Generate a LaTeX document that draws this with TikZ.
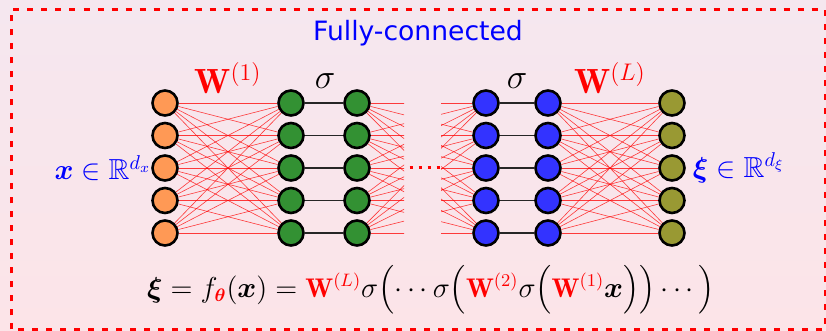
\documentclass[tikz,border=0pt]{standalone}
\usepackage{amsmath,amssymb}
\usepackage{bm}
\usepackage{fontspec}
\newfontfamily\titlefont{DejaVu Sans}
\usetikzlibrary{positioning}

\definecolor{bgtop}{RGB}{245,231,239}
\definecolor{bgbot}{RGB}{252,228,232}
\definecolor{inorange}{RGB}{255,153,85}
\definecolor{hidgreen}{RGB}{51,145,51}
\definecolor{hidblue}{RGB}{51,51,255}
\definecolor{outolive}{RGB}{153,153,51}

\tikzset{
  neuron/.style={draw, circle, line width=1.3pt, minimum size=12.5pt, inner sep=0pt},
  wline/.style={red, line width=0.3pt, opacity=0.75},
  actline/.style={line width=0.9pt, black!85},
  lbl/.style={font=\fontsize{14.5}{16}\selectfont},
  wlbl/.style={font=\fontsize{17.5}{19}\selectfont},
  siglbl/.style={font=\fontsize{19}{21}\selectfont}
}
\newcommand{\wmat}[1]{{\color{red}\mathbf{W}^{(#1)}}}

\begin{document}
\begin{tikzpicture}[x=0.5pt, y=0.5pt]
  \useasboundingbox (0,0) rectangle (826,331);
  \shade[top color=bgtop, bottom color=bgbot] (0,0) rectangle (826,331);
  \draw[red, line width=1.5pt, dash pattern=on 3pt off 4pt] (11,1.5) rectangle (825,321);
  \node[font=\titlefont\fontsize{13.3}{15}\selectfont, text=blue] (title) at (418,298) {Fully-connected};

  % layers
  \foreach \i in {1,...,5} {
    \pgfmathsetmacro{\yy}{228-32.5*(\i-1)}
    \node[neuron, fill=inorange] (in\i) at (165,\yy) {};
    \node[neuron, fill=hidgreen] (ha\i) at (291,\yy) {};
    \node[neuron, fill=hidgreen] (hb\i) at (357,\yy) {};
    \node[neuron, fill=hidblue] (hc\i) at (486,\yy) {};
    \node[neuron, fill=hidblue] (hd\i) at (548,\yy) {};
    \node[neuron, fill=outolive] (out\i) at (672,\yy) {};
  }

  % weights
  \foreach \i in {1,...,5} \foreach \j in {1,...,5} {
    \draw[wline] (in\i) -- (ha\j);
    \draw[wline] (hd\i) -- (out\j);
  }
  \begin{scope}
    \clip (360,0) rectangle (404,331);
    \foreach \i in {1,...,5} \foreach \j in {1,...,5} \draw[wline] (hb\i) -- (hc\j);
  \end{scope}
  \begin{scope}
    \clip (441,0) rectangle (480,331);
    \foreach \i in {1,...,5} \foreach \j in {1,...,5} \draw[wline] (hb\i) -- (hc\j);
  \end{scope}

  % activations
  \foreach \i in {1,...,5} {
    \draw[actline] (ha\i) -- (hb\i);
    \draw[actline] (hc\i) -- (hd\i);
  }

  \coordinate (dotsL) at (409.5,163);
  \coordinate (dotsR) at (439.5,163);
  \draw[red, line width=1.5pt, dash pattern=on 1.5pt off 3pt] (dotsL) -- (dotsR);

  % labels
  \node[wlbl] (w1) at (228,253) {$\wmat{1}$};
  \node[siglbl] (sig1) at (325,250) {$\sigma$};
  \node[siglbl] (sig2) at (517,250) {$\sigma$};
  \node[wlbl] (wl) at (610,253) {$\wmat{L}$};
  \node[lbl, text=blue, left=-3.5pt of in3] (xlab) {$\bm{x}\in\mathbb{R}^{d_x}$};
  \node[lbl, text=blue, right=0pt of out3] (xilab) {$\bm{\xi}\in\mathbb{R}^{d_\xi}$};

  \node[font=\fontsize{13.5}{15}\selectfont] (eqn) at (431,41)
    {$\bm{\xi}=f_{\color{red}\bm{\theta}}(\bm{x})=\wmat{L}\sigma\Bigl(\cdots\sigma\Bigl(\wmat{2}\sigma\Bigl(\wmat{1}\bm{x}\Bigr)\Bigr)\cdots\Bigr)$};
\end{tikzpicture}
\end{document}
